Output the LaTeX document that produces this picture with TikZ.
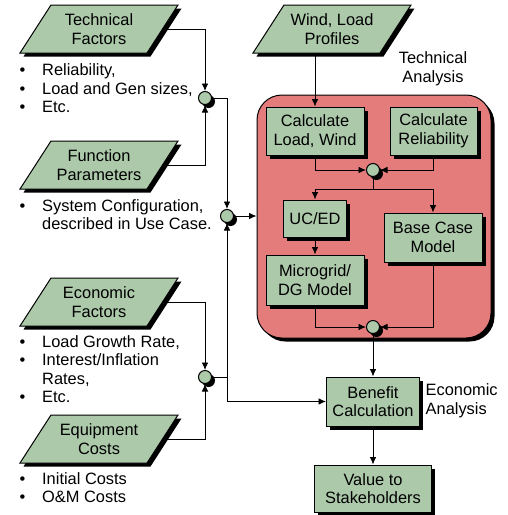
\documentclass[tikz,border=0pt]{standalone}
\usepackage{fontspec}
\setmainfont{Liberation Sans}
\usetikzlibrary{arrows.meta,shadows,calc}
\definecolor{boxgreen}{RGB}{172,201,170}
\definecolor{regred}{RGB}{228,124,124}
\newcommand{\fsz}{\fontsize{16.4}{18.6}\selectfont}
\tikzset{
  shad/.style={drop shadow={shadow xshift=3.5pt,shadow yshift=-3.5pt,fill=black,opacity=1}},
  gbox/.style={rectangle,draw=black,line width=1pt,fill=boxgreen,align=center,font=\fsz,inner sep=0pt,shad},
  pgnode/.style={rectangle,align=center,font=\fsz,inner sep=0pt,minimum width=127pt,minimum height=48pt},
  junc/.style={circle,draw=black,line width=1pt,fill=boxgreen,minimum size=13pt,inner sep=0pt,shad},
  region/.style={rectangle,rounded corners=25pt,draw=black,line width=1pt,fill=regred,shad},
  conn/.style={line width=0.9pt,-{Latex[length=7.5pt,width=6.5pt]}},
  plainline/.style={line width=0.9pt},
  txt/.style={font=\fsz,inner sep=0pt},
  bul/.style={txt,anchor=base west},
}
\newcommand{\pgram}[3]{%
  \begin{scope}[shift={#2}]
    \fill[black] (-44.5,-20.5) -- (82.5,-20.5) -- (51.5,27.5) -- (-75.5,27.5) -- cycle;
    \draw[fill=boxgreen,line width=1pt] (-48,-24) -- (79,-24) -- (48,24) -- (-79,24) -- cycle;
  \end{scope}
  \node[pgnode] (#1) at #2 {#3};
}
\newcommand{\bl}{\makebox[22.5pt][l]{\textbullet}}
\newcommand{\nb}{\makebox[22.5pt][l]{}}
\begin{document}
\begin{tikzpicture}[x=1pt,y=-1pt]
\useasboundingbox (0,0) rectangle (508,515);

% input parallelograms
\pgram{tf}{(99,29)}{Technical\\Factors}
\pgram{fp}{(99,165)}{Function\\Parameters}
\pgram{ef}{(99,302)}{Economic\\Factors}
\pgram{ec}{(99,439)}{Equipment\\Costs}
\pgram{wl}{(332,29)}{Wind, Load\\Profiles}

% bullet lists
\node[bul] (t1) at (19.5,75.7) {\bl Reliability,};
\node[bul] (t2) at (19.5,94.2) {\bl Load and Gen sizes,};
\node[bul] (t3) at (19.5,112.8) {\bl Etc.};
\node[bul] (f1) at (19.5,211.7) {\bl System Configuration,};
\node[bul] (f2) at (19.5,229.2) {\nb described in Use Case.};
\node[bul] (e1) at (19.5,347.4) {\bl Load Growth Rate,};
\node[bul] (e2) at (19.5,365.8) {\bl Interest/Inflation};
\node[bul] (e3) at (19.5,384.2) {\nb Rates,};
\node[bul] (e4) at (19.5,402.8) {\bl Etc.};
\node[bul] (q1) at (19.5,484) {\bl Initial Costs};
\node[bul] (q2) at (19.5,502.4) {\bl O\&M Costs};

% technical analysis region
\node[region,minimum width=234pt,minimum height=243pt] (ta) at (374,216.5) {};
\node[txt,align=center] (tal) at (433,68.5) {Technical\\Analysis};
\node[txt,align=left,anchor=west] (eal) at (425.5,401) {Economic\\Analysis};

% boxes
\node[gbox,minimum width=98pt,minimum height=48pt] (clw) at (315,131) {Calculate\\Load, Wind};
\node[gbox,minimum width=87pt,minimum height=48pt] (cr) at (433.5,131) {Calculate\\Reliability};
\node[gbox,minimum width=63pt,minimum height=37pt] (uc) at (315,218.5) {UC/ED};
\node[gbox,minimum width=98pt,minimum height=50pt] (mg) at (315,280) {Microgrid/\\DG Model};
\node[gbox,minimum width=98pt,minimum height=49pt] (bcm) at (433,237.5) {Base Case\\Model};
\node[gbox,minimum width=93pt,minimum height=49pt] (ben) at (373,401.5) {Benefit\\Calculation};
\node[gbox,minimum width=117pt,minimum height=47pt] (val) at (373,488.5) {Value to\\Stakeholders};

% junctions
\node[junc] (c1) at (205,98) {};
\node[junc] (c2) at (227,216) {};
\node[junc] (c3) at (205,377) {};
\node[junc] (c4) at (373,170) {};
\node[junc] (c5) at (373,327) {};
\coordinate (sp) at (373,189);

% connectors (left side)
\draw[conn] (tf.east) -| (c1);
\draw[conn] (fp.east) -| (c1);
\draw[conn] (c1.east) -| (c2);
\draw[conn] (c2.east) -- (c2.east -| ta.west);
\draw[conn] (ef.east) -| (c3);
\draw[conn] (ec.east) -| (c3);
\draw[conn] (c3.east) -| (c2);
\draw[conn] (c3.east) -- (c2 |- c3.east) -- (c2 |- ben.west) -- (ben.west);

% connectors (technical analysis)
\draw[conn] (clw.north |- wl.south) -- (clw.north);
\draw[conn] (clw.south) |- (c4.west);
\draw[conn] (cr.south) |- (c4.east);
\draw[plainline] (c4.south) -- (sp);
\draw[conn] (sp) -| (uc.north);
\draw[conn] (sp) -| (bcm.north);
\draw[conn] (uc.south) -- (mg.north);
\draw[conn] (mg.south) |- (c5.west);
\draw[conn] (bcm.south) |- (c5.east);
\draw[conn] (c5.south) -- (ben.north);
\draw[conn] (ben.south) -- (val.north);
\end{tikzpicture}
\end{document}
